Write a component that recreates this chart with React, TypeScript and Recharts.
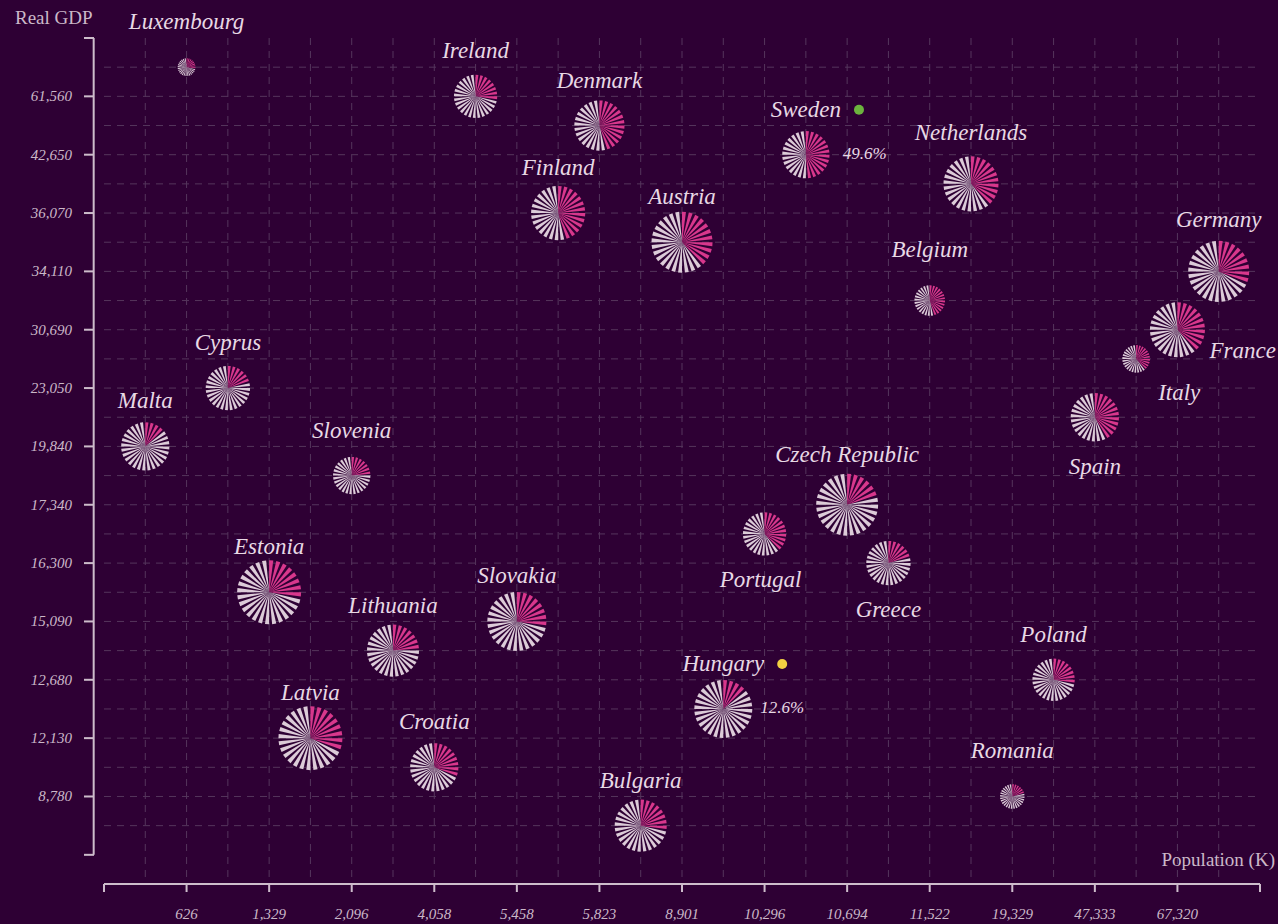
import { ScatterChart, Scatter, XAxis, YAxis, ZAxis, CartesianGrid, ReferenceLine } from "recharts";

const countries = [
  "Luxembourg", "Ireland", "Denmark", "Sweden", "Netherlands", "Finland", "Austria",
  "Germany", "Belgium", "France", "Italy", "Cyprus", "Spain", "Malta", "Slovenia",
  "Czech Republic", "Portugal", "Greece", "Estonia", "Slovakia", "Lithuania", "Poland",
  "Hungary", "Latvia", "Croatia", "Romania", "Bulgaria",
];
// population, thousands
const population = [
  626, 4964, 5823, 10327, 17408, 5525, 8901, 83167, 11522, 67320, 59641, 889, 47333, 515,
  2096, 10694, 10296, 10709, 1329, 5458, 2794, 37958, 9770, 1907, 4058, 19329, 6951,
];
// real GDP per capita
const realGdp = [
  83640, 61560, 47540, 42650, 40650, 36070, 35390, 34110, 32580, 30690, 25310, 23050, 22350,
  19840, 18800, 17340, 16860, 16300, 15660, 15090, 13880, 12680, 12400, 12130, 11100, 8780, 5870,
];
// pink share of each flower, %
const womenShare = [
  30.0, 30.0, 44.7, 49.6, 37.5, 46.0, 41.0, 33.0, 46.7, 39.5, 37.5, 23.2, 43.0, 14.0, 24.4,
  23.0, 40.0, 23.0, 29.0, 28.0, 24.1, 28.7, 12.6, 33.0, 33.1, 21.9, 27.5,
];
// flower size variable, %
const payGap = [
  2.0, 11.8, 15.9, 14.1, 19.1, 18.5, 23.5, 23.5, 5.9, 19.1, 4.8, 12.4, 14.7, 14.7, 8.8,
  24.2, 11.8, 12.4, 25.8, 22.0, 17.1, 11.3, 21.2, 25.8, 14.7, 3.8, 17.1,
];

const BG = "#2e0034";
const PINK = "#d8378c";
const PETAL = "#dccbd8";
const AXIS = "#cdbccb";
const GRID = "#55355c";
const TICK_TEXT = "#cbb8c8";
const LABEL_TEXT = "#e8d9e5";
const SERIF = "'Liberation Serif', 'Times New Roman', serif";
const PETALS = 28;

// label placement tweaks (default: centred above the flower)
const labelPlace: Record<string, { dx: number; dy: number; anchor: "middle" | "start" }> = {
  Netherlands: { dx: 0, dy: -52, anchor: "middle" },
  Germany: { dx: 0, dy: -52, anchor: "middle" },
  Belgium: { dx: 0, dy: -52, anchor: "middle" },
  "Czech Republic": { dx: 0, dy: -51, anchor: "middle" },
  Spain: { dx: 0, dy: 49, anchor: "middle" },
  Portugal: { dx: -4, dy: 45, anchor: "middle" },
  Greece: { dx: 0, dy: 46, anchor: "middle" },
  Italy: { dx: 22, dy: 33, anchor: "start" },
  France: { dx: 32, dy: 20, anchor: "start" },
};

const idx = countries.map((_, i) => i);
const popOrder = [...idx].sort((a, b) => population[a] - population[b]);
const gdpOrder = [...idx].sort((a, b) => realGdp[b] - realGdp[a]);

const points = countries.map((name, i) => ({
  name,
  share: womenShare[i],
  gap: payGap[i],
  popRank: popOrder.indexOf(i) + 1,
  gdpRank: gdpOrder.indexOf(i) + 1,
}));

const n = countries.length;
const ranks = Array.from({ length: n }, (_, k) => k + 1);
const axisTicks = Array.from({ length: Math.floor(n / 2) + 2 }, (_, k) => k * 2);
const maxShare = Math.max(...womenShare);
const minShare = Math.min(...womenShare);

const fmt = (v: number) => v.toLocaleString("en-US");

const measureCtx = typeof document !== "undefined" ? document.createElement("canvas").getContext("2d") : null;
function textWidth(text: string, font: string) {
  if (!measureCtx) return text.length * 11;
  measureCtx.font = font;
  return measureCtx.measureText(text).width;
}

function PopTick({ x, y, payload }: any) {
  const rank = payload.value;
  const i = rank >= 1 && rank <= n ? popOrder[rank - 1] : undefined;
  return (
    <g>
      <line x1={x} x2={x} y1={y} y2={y + 8} stroke={AXIS} strokeWidth={2} />
      {i !== undefined && (
        <text x={x} y={y + 35} textAnchor="middle" fill={TICK_TEXT} fontSize={15} fontStyle="italic" fontFamily={SERIF}>
          {fmt(population[i])}
        </text>
      )}
    </g>
  );
}

function GdpTick({ x, y, payload }: any) {
  const rank = payload.value;
  const i = rank >= 1 && rank <= n ? gdpOrder[rank - 1] : undefined;
  return (
    <g>
      <line x1={x - 20} x2={x - 10} y1={y} y2={y} stroke={AXIS} strokeWidth={2} />
      {i !== undefined && (
        <text x={x - 32} y={y + 5} textAnchor="end" fill={TICK_TEXT} fontSize={15} fontStyle="italic" fontFamily={SERIF}>
          {fmt(realGdp[i])}
        </text>
      )}
    </g>
  );
}

function Flower(props: any) {
  const { cx, cy, width, payload } = props;
  const r = width / 2;
  const pinkCount = Math.round((payload.share / 100) * PETALS);
  const half = (Math.PI / PETALS) * 0.58;
  const petals = [];
  for (let k = 0; k < PETALS; k++) {
    const a = (k * 2 * Math.PI) / PETALS + half;
    const p1 = `${cx + r * Math.sin(a - half)},${cy - r * Math.cos(a - half)}`;
    const p2 = `${cx + r * Math.sin(a + half)},${cy - r * Math.cos(a + half)}`;
    petals.push(<polygon key={k} points={`${cx},${cy} ${p1} ${p2}`} fill={k < pinkCount ? PINK : PETAL} />);
  }
  const place = labelPlace[payload.name] ?? { dx: 0, dy: -46, anchor: "middle" };
  const labelFont = `italic 23px ${SERIF}`;
  const isMax = payload.share === maxShare;
  const isMin = payload.share === minShare;
  const w = textWidth(payload.name, labelFont);
  return (
    <g>
      {petals}
      <text
        x={cx + place.dx}
        y={cy + place.dy + 8}
        textAnchor={place.anchor}
        fill={LABEL_TEXT}
        fontSize={23}
        fontStyle="italic"
        fontFamily={SERIF}
      >
        {payload.name}
      </text>
      {(isMax || isMin) && (
        <>
          <circle cx={cx + place.dx + w / 2 + 18} cy={cy + place.dy + 1} r={5} fill={isMax ? "#6cb33e" : "#f2d042"} />
          <text x={cx + 37} y={cy + 4} fill={LABEL_TEXT} fontSize={17} fontStyle="italic" fontFamily={SERIF}>
            {payload.share.toFixed(1)}%
          </text>
        </>
      )}
    </g>
  );
}

export default function App() {
  return (
    <div style={{ position: "absolute", left: 0, top: 0, width: 1278, height: 924, background: BG }}>
      <ScatterChart width={1278} height={924} margin={{ top: 38, right: 18, bottom: 10, left: 44 }}>
        <CartesianGrid stroke={GRID} strokeDasharray="7 6" horizontalValues={ranks} verticalValues={ranks} />
        <XAxis
          type="number"
          dataKey="popRank"
          domain={[0, n + 1]}
          ticks={axisTicks}
          interval={0}
          height={30}
          axisLine={{ stroke: AXIS, strokeWidth: 2 }}
          tickLine={false}
          tickSize={0}
          tickMargin={0}
          tick={(p: any) => <PopTick {...p} />}
        />
        <YAxis
          type="number"
          dataKey="gdpRank"
          domain={[0, n + 2]}
          reversed
          ticks={axisTicks}
          interval={0}
          width={60}
          axisLine={false}
          tickLine={false}
          tickSize={0}
          tickMargin={0}
          tick={(p: any) => <GdpTick {...p} />}
        />
        <ZAxis type="number" dataKey="gap" domain={[0, 25]} range={[0, 3217]} />
        <ReferenceLine
          segment={[{ x: -0.25, y: 0 }, { x: -0.25, y: n + 1 }]}
          ifOverflow="visible"
          stroke={AXIS}
          strokeWidth={2}
        />
        <Scatter data={points} shape={(p: any) => <Flower {...p} />} isAnimationActive={false} />
      </ScatterChart>
      <div style={{ position: "absolute", left: 15, top: 7, fontFamily: SERIF, fontSize: 19, color: TICK_TEXT, lineHeight: "22px" }}>
        Real GDP
      </div>
      <div style={{ position: "absolute", right: 3, top: 849, fontFamily: SERIF, fontSize: 19, color: TICK_TEXT, lineHeight: "22px" }}>
        Population (K)
      </div>
    </div>
  );
}
